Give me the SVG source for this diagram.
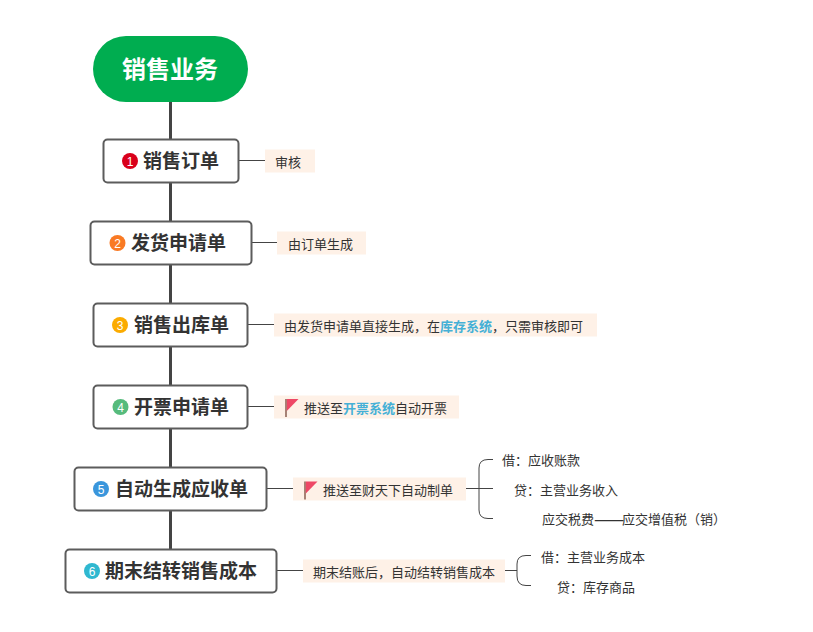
<svg xmlns="http://www.w3.org/2000/svg" width="813" height="632" viewBox="0 0 813 632">
<defs>
<style>
text{font-family:"Noto Sans CJK SC","Liberation Sans",sans-serif}
.box{fill:#fff;stroke:#5c5c5c;stroke-width:2}
.t{font-size:19px;font-weight:700;fill:#333}
.s{font-size:13px;fill:#333}
.b{fill:#45b0d6;font-weight:700}
.n{fill:#fff;font-size:12px;font-family:"Liberation Sans",sans-serif;text-anchor:middle}
.lab{fill:#fef1e7}
.trunk{fill:none;stroke:#444;stroke-width:3}
.thin{fill:none;stroke:#444;stroke-width:1}
</style>
<g id="flag"><path d="M0 0V18" stroke="#6b3a2a" stroke-width="1.2" fill="none"/><path d="M.8 0H12.5L.8 12Z" fill="#ee4866"/></g>
</defs>
<rect width="813" height="632" fill="#fff"/>
<g id="connectors">
<path class="trunk" d="M170.500 100V550"/>
<path class="thin" d="M239 160.500H265M252 242.500H277M248 324.500H274M248 406.500H274M267 488.500H293M277 570.500H303"/>
<path class="thin" d="M466 488.500H493M493 459.500H488Q479 459.500 479 468V510Q479 518.500 488 518.500H493"/>
<path class="thin" d="M505 570.500H517M531 555.500H526Q517 555.500 517 564V576Q517 585.500 526 585.500H531"/>
</g>
<g id="root"><rect x="93" y="36" width="155" height="66" rx="33" fill="#00ad50"/><text x="170" y="77.500" text-anchor="middle" font-size="24" font-weight="700" fill="#fff">销售业务</text></g>
<g id="n1"><rect class="box" x="103.500" y="139.500" width="135" height="43" rx="4"/><circle cx="130" cy="161" r="8" fill="#d9001b"/><text class="n" x="130" y="165.500">1</text><text class="t" x="143" y="167.500">销售订单</text></g>
<g id="n2"><rect class="box" x="90.500" y="221.500" width="161" height="43" rx="4"/><circle cx="117.500" cy="243" r="8" fill="#f97a24"/><text class="n" x="117.500" y="247.500">2</text><text class="t" x="131" y="249.500">发货申请单</text></g>
<g id="n3"><rect class="box" x="93.500" y="303.500" width="154" height="43" rx="4"/><circle cx="120" cy="325" r="8" fill="#fbab00"/><text class="n" x="120" y="329.500">3</text><text class="t" x="134" y="331.500">销售出库单</text></g>
<g id="n4"><rect class="box" x="93.500" y="385.500" width="154" height="43" rx="4"/><circle cx="120.500" cy="407" r="8" fill="#56bb7c"/><text class="n" x="120.500" y="411.500">4</text><text class="t" x="134" y="413.500">开票申请单</text></g>
<g id="n5"><rect class="box" x="74.500" y="467.500" width="192" height="43" rx="4"/><circle cx="101" cy="489" r="8" fill="#3a96dc"/><text class="n" x="101" y="493.500">5</text><text class="t" x="115" y="495.500">自动生成应收单</text></g>
<g id="n6"><rect class="box" x="65.500" y="549.500" width="211" height="43" rx="4"/><circle cx="92" cy="571" r="8" fill="#2fb8d0"/><text class="n" x="92" y="575.500">6</text><text class="t" x="105" y="577.500">期末结转销售成本</text></g>
<g id="l1"><rect class="lab" x="265" y="149.500" width="50" height="23"/><text class="s" x="275" y="166.500">审核</text></g>
<g id="l2"><rect class="lab" x="277" y="231.500" width="89" height="23"/><text class="s" x="288" y="248.500">由订单生成</text></g>
<g id="l3"><rect class="lab" x="274" y="313.500" width="323" height="23"/><text class="s" x="284" y="330.500">由发货申请单直接生成，在<tspan class="b">库存系统</tspan>，只需审核即可</text></g>
<g id="l4"><rect class="lab" x="274" y="395.500" width="185" height="23"/><use href="#flag" x="286" y="399"/><text class="s" x="304" y="412.500">推送至<tspan class="b">开票系统</tspan>自动开票</text></g>
<g id="l5"><rect class="lab" x="293" y="477.500" width="173" height="23"/><use href="#flag" x="305" y="481.500"/><text class="s" x="323" y="494.500">推送至财天下自动制单</text></g>
<g id="l6"><rect class="lab" x="303" y="559.500" width="202" height="23"/><text class="s" x="313" y="576.500">期末结账后，自动结转销售成本</text></g>
<g id="d1"><text class="s" x="502" y="465">借：应收账款</text></g>
<g id="d2"><text class="s" x="514" y="495">贷：主营业务收入</text></g>
<g id="d3"><text class="s" x="542" y="524">应交税费<tspan font-size="18" dy="2">——</tspan><tspan x="622" dy="-2">应交增值税（销）</tspan></text></g>
<g id="d4"><text class="s" x="541" y="562">借：主营业务成本</text></g>
<g id="d5"><text class="s" x="557" y="592">贷：库存商品</text></g>
</svg>
